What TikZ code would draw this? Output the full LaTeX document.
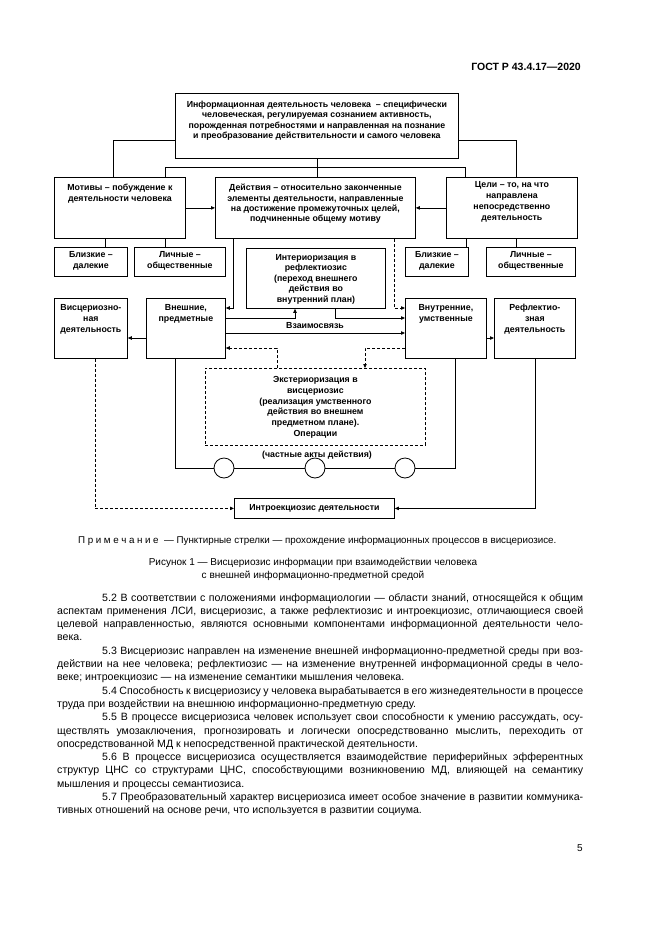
\documentclass[tikz,border=0pt]{standalone}
\usepackage{fontspec}
\setmainfont{Liberation Sans}
\usetikzlibrary{arrows.meta}
\newcommand{\bt}[4]{\parbox[c][#2pt][t]{#1pt}{\vspace*{#3pt}\centering #4\par}}
\newcommand{\jfull}[1]{\hbox to 526pt{#1}}
\newcommand{\jind}[1]{\hbox to 526pt{\hskip45pt #1}}
\newcommand{\jlast}[1]{\hbox{#1}}
\newcommand{\lsp}{\hspace{2.6pt}}
\tikzset{
  ln/.style={line width=0.8pt, draw=black},
  bx/.style={ln, draw, inner sep=0pt, anchor=north west, font=\fontsize{8.8}{11}\selectfont\bfseries},
  dsh/.style={dash pattern=on 3pt off 2pt},
  arr/.style={ln, -{Triangle[length=4pt,width=3.4pt]}},
  circ/.style={ln, draw, circle, minimum size=20pt, inner sep=0pt},
  lbl/.style={inner sep=0pt, font=\fontsize{8.8}{10}\selectfont\bfseries},
}
\begin{document}
\begin{tikzpicture}[x=1pt,y=-1pt]
\fill[white] (0,0) rectangle (661,935);
\useasboundingbox (0,0) rectangle (661,935);

% header
\node[anchor=base east, inner sep=0pt, font=\fontsize{10.5}{12}\selectfont\bfseries] (hdr) at (581,70) {ГОСТ Р 43.4.17—2020};

% boxes
\node[bx] (top) at (175,93) {\bt{283}{65}{8}{\fontsize{8.8}{10.2}\selectfont Информационная деятельность человека~ – специфически\\ человеческая, регулируемая сознанием активность,\\ порожденная потребностями и направленная на познание\\ и преобразование действительности и самого человека}};
\node[bx] (mot) at (54,177) {\bt{131}{61}{7}{Мотивы – побуждение к\\ деятельности человека}};
\node[bx] (act) at (215,177) {\bt{200}{61}{7}{\fontsize{8.8}{10.2}\selectfont Действия – относительно законченные\\ элементы деятельности, направленные\\ на достижение промежуточных целей,\\ подчиненные общему мотиву}};
\node[bx] (goal) at (446,177) {\bt{131}{61}{4}{Цели – то, на что\\ направлена\\ непосредственно\\ деятельность}};
\node[bx] (bd1) at (54,247) {\bt{73}{29}{4}{Близкие –\\ далекие}};
\node[bx] (lo1) at (134,247) {\bt{91}{29}{4}{Личные –\\ общественные}};
\node[bx] (int) at (246,248) {\bt{139}{60}{6}{\fontsize{8.8}{10.5}\selectfont Интериоризация в\\ рефлектиозис\\ (переход внешнего\\ действия во\\ внутренний план)}};
\node[bx] (bd2) at (405,247) {\bt{63}{29}{4}{Близкие –\\ далекие}};
\node[bx] (lo2) at (486,247) {\bt{89}{29}{4}{Личные –\\ общественные}};
\node[bx] (visc) at (54,298) {\bt{73}{60}{6}{Висцериозно-\\ная\\ деятельность}};
\node[bx] (vnesh) at (146,298) {\bt{79}{60}{6}{Внешние,\\ предметные}};
\node[bx] (vnutr) at (405,298) {\bt{81}{60}{6}{Внутренние,\\ умственные}};
\node[bx] (refl) at (494,298) {\bt{81}{60}{6}{Рефлектио-\\зная\\ деятельность}};
\node[bx, dsh] (ext) at (205,368) {\bt{220}{77}{8}{\fontsize{8.8}{10.8}\selectfont Экстериоризация в\\ висцериозис\\ (реализация умственного\\ действия во внешнем\\ предметном плане).\\ Операции}};
\node[bx] (intro) at (234,498) {\bt{160}{20}{6}{Интроекциозис деятельности}};

\node[circ] (c1) at (224,468) {};
\node[circ] (c2) at (315,468) {};
\node[circ] (c3) at (405,468) {};

% helper coordinates
\coordinate (jl) at (165,167);
\coordinate (jr) at (465,167);
\coordinate (sl) at (113,140);
\coordinate (sr) at (516,140);
\coordinate (xa) at (105,0);
\coordinate (xb) at (165,0);
\coordinate (xc) at (466,0);
\coordinate (xd) at (516,0);
\coordinate (p1) at (233,308);
\coordinate (p2) at (394,308);
\coordinate (p3) at (335,318);
\coordinate (p4) at (295,318);
\coordinate (p5) at (0,333);
\coordinate (p6) at (277,348);
\coordinate (p7) at (365,348);
\coordinate (p8) at (0,338);
\coordinate (xk) at (175,0);
\coordinate (xl) at (455,0);
\coordinate (xm) at (95,0);
\coordinate (xn) at (535,0);

% connectors, top
\draw[ln] (top.south) -- (top.south |- act.north);
\draw[ln] (jl |- mot.north) -- (jl) -- (jr) -- (jr |- goal.north);
\draw[ln] (top.west |- sl) -- (sl) -- (sl |- mot.north);
\draw[ln] (top.east |- sr) -- (sr) -- (sr |- goal.north);
\draw[arr] (mot) -- (act);
\draw[arr] (goal) -- (act);
\draw[ln] (mot.south -| xa) -- (bd1.north -| xa);
\draw[ln] (mot.south -| xb) -- (lo1.north -| xb);
\draw[ln] (goal.south -| xc) -- (bd2.north -| xc);
\draw[ln] (goal.south -| xd) -- (lo2.north -| xd);

% middle
\draw[arr] (act.south -| p1) -- (p1) -- (vnesh.east |- p1);
\draw[arr, dsh] (act.south -| p2) -- (p2) -- (vnutr.west |- p2);
\draw[arr] (int.south -| p3) -- (p3) -- (vnutr.west |- p3);
\draw[arr] (vnesh.east |- p4) -- (p4) -- (int.south -| p4);
\draw[arr] (vnesh.east |- p5) -- (vnutr.west |- p5);
\node[lbl] (vz) at (315,326) {Взаимосвязь};
\draw[arr, dsh] (ext.north -| p6) -- (p6) -- (vnesh.east |- p6);
\draw[arr, dsh] (vnutr.west |- p7) -- (p7) -- (ext.north -| p7);
\draw[arr] (vnesh.west |- p8) -- (visc.east |- p8);
\draw[arr] (vnutr.east |- p8) -- (refl.west |- p8);

% bottom
\draw[ln] (vnesh.south -| xk) |- (c1.west);
\draw[ln] (c1.east) -- (c2.west);
\draw[ln] (c2.east) -- (c3.west);
\draw[ln] (c3.east) -| (vnutr.south -| xl);
\node[lbl] (acts) at (317,455) {(частные акты действия)};
\draw[arr, dsh] (visc.south -| xm) |- (intro.west);
\draw[arr] (refl.south -| xn) |- (intro.east);

% captions
\node[anchor=base west, inner sep=0pt, font=\fontsize{9.8}{11}\selectfont] (note) at (78,543) {П\lsp р\lsp и\lsp м\lsp е\lsp ч\lsp а\lsp н\lsp и\lsp е\ \ — Пунктирные стрелки — прохождение информационных процессов в висцериозисе.};
\node[align=center, inner sep=0pt, font=\fontsize{10}{13}\selectfont] (cap) at (313,569) {Рисунок 1 — Висцериозис информации при взаимодействии человека\\ с внешней информационно-предметной средой};

% body text
\node[anchor=base west, inner sep=0pt, font=\fontsize{10.6}{13.3}\selectfont] (body) at (57,601) {\parbox[t]{526pt}{\baselineskip=13.3pt
\jind{5.2 В соответствии с положениями информациологии — области знаний, относящейся к общим}
\jfull{аспектам применения ЛСИ, висцериозис, а также рефлектиозис и интроекциозис, отличающиеся своей}
\jfull{целевой направленностью, являются основными компонентами информационной деятельности чело-}
\jlast{века.}
\jind{5.3 Висцериозис направлен на изменение внешней информационно-предметной среды при воз-}
\jfull{действии на нее человека; рефлектиозис — на изменение внутренней информационной среды в чело-}
\jlast{веке; интроекциозис — на изменение семантики мышления человека.}
\jind{5.4 Способность к висцериозису у человека вырабатывается в его жизнедеятельности в процессе}
\jlast{труда при воздействии на внешнюю информационно-предметную среду.}
\jind{5.5 В процессе висцериозиса человек использует свои способности к умению рассуждать, осу-}
\jfull{ществлять умозаключения, прогнозировать и логически опосредствованно мыслить, переходить от}
\jlast{опосредствованной МД к непосредственной практической деятельности.}
\jind{5.6 В процессе висцериозиса осуществляется взаимодействие периферийных эфферентных}
\jfull{структур ЦНС со структурами ЦНС, способствующими возникновению МД, влияющей на семантику}
\jlast{мышления и процессы семантиозиса.}
\jind{5.7 Преобразовательный характер висцериозиса имеет особое значение в развитии коммуника-}
\jlast{тивных отношений на основе речи, что используется в развитии социума.}
}};

\node[anchor=base east, inner sep=0pt, font=\fontsize{10}{12}\selectfont] (pg) at (583,851) {5};
\end{tikzpicture}
\end{document}
